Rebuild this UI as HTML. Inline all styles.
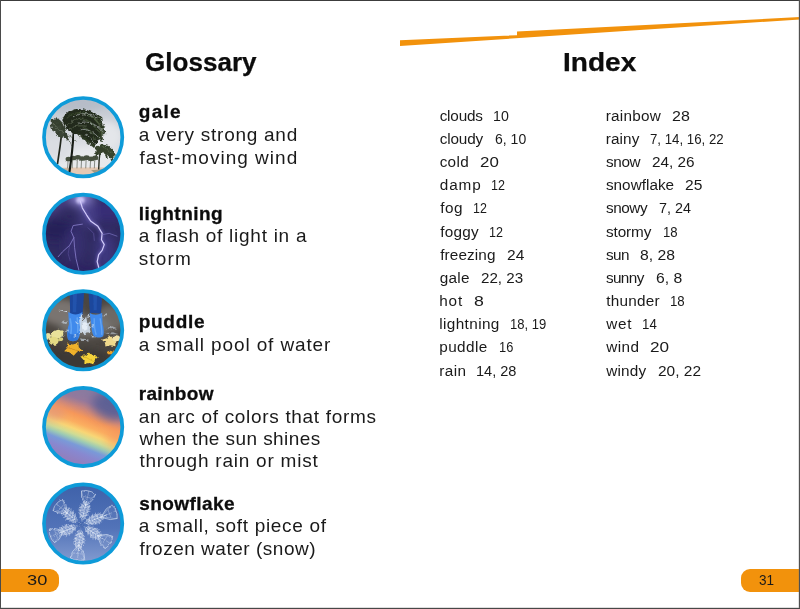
<!DOCTYPE html>
<html lang="en">
<head>
<meta charset="utf-8">
<title>Glossary and Index</title>
<style>
  html, body { margin: 0; padding: 0; }
  body { width: 800px; height: 609px; background: #ffffff; overflow: hidden; position: relative;
         font-family: "Liberation Sans", sans-serif; }
  #page { position: absolute; left: 0; top: 0; width: 800px; height: 609px; background: #fff; overflow: hidden; }
  .edge { position: absolute; }
  #e-top { left: 0; top: 0; width: 800px; height: 1px; background: #3c3c3c; }
  #e-left { left: 0; top: 0; width: 1px; height: 609px; background: #4a4a4a; }
  #e-right { left: 798px; top: 0; width: 2px; height: 609px; background: linear-gradient(90deg, rgba(120,120,120,.22) 0 50%, #505050 50% 100%); }
  #e-bot { left: 0; top: 607px; width: 800px; height: 2px; background: linear-gradient(180deg, rgba(120,120,120,.25) 0 50%, #484848 50% 100%); }
  .t { position: absolute; white-space: pre; line-height: 1; font-family: "Liberation Sans", sans-serif; }
  .n { transform-origin: 0 0; }
  .tab { position: absolute; background: #f2920c; height: 22.8px; top: 569.1px; }
  #tab-l { left: 0px; width: 59px; border-radius: 0 9px 9px 0; }
  #tab-r { left: 741px; width: 59px; border-radius: 9px 0 0 9px; }
  svg { position: absolute; left: 0; top: 0; }
  #txt { position: absolute; left: 0; top: 0; width: 800px; height: 609px; will-change: transform; }
</style>
</head>
<body>
<div id="page">

<svg id="art" width="800" height="609" viewBox="0 0 800 609">
  <defs>
    <filter id="b03" x="-10%" y="-10%" width="120%" height="120%"><feGaussianBlur stdDeviation="0.3"/></filter>
    <filter id="b05" x="-10%" y="-10%" width="120%" height="120%"><feGaussianBlur stdDeviation="0.5"/></filter>
    <filter id="b1" x="-10%" y="-10%" width="120%" height="120%"><feGaussianBlur stdDeviation="0.9"/></filter>
    <filter id="b2" x="-30%" y="-30%" width="160%" height="160%"><feGaussianBlur stdDeviation="1.6"/></filter>
    <filter id="b3" x="-30%" y="-30%" width="160%" height="160%"><feGaussianBlur stdDeviation="3"/></filter>
    <filter id="b4" x="-40%" y="-40%" width="180%" height="180%"><feGaussianBlur stdDeviation="5"/></filter>
    <filter id="rough" x="-20%" y="-20%" width="140%" height="140%"><feTurbulence type="fractalNoise" baseFrequency="0.32" numOctaves="2" seed="4" result="n"/><feDisplacementMap in="SourceGraphic" in2="n" scale="4.5" xChannelSelector="R" yChannelSelector="G"/><feGaussianBlur stdDeviation="0.45"/></filter>
    <filter id="rough2" x="-20%" y="-20%" width="140%" height="140%"><feTurbulence type="fractalNoise" baseFrequency="0.5" numOctaves="2" seed="9" result="n"/><feDisplacementMap in="SourceGraphic" in2="n" scale="1.6" xChannelSelector="R" yChannelSelector="G"/><feGaussianBlur stdDeviation="0.45"/></filter>
    <filter id="rough3" x="-20%" y="-20%" width="140%" height="140%"><feTurbulence type="fractalNoise" baseFrequency="0.28" numOctaves="2" seed="12" result="n"/><feDisplacementMap in="SourceGraphic" in2="n" scale="3.4" xChannelSelector="R" yChannelSelector="G"/><feGaussianBlur stdDeviation="0.45"/></filter>
    <filter id="rough4" x="-20%" y="-20%" width="140%" height="140%"><feTurbulence type="fractalNoise" baseFrequency="0.4" numOctaves="2" seed="21" result="n"/><feDisplacementMap in="SourceGraphic" in2="n" scale="2.6" xChannelSelector="R" yChannelSelector="G"/><feGaussianBlur stdDeviation="0.4"/></filter>
    <clipPath id="cc"><circle cx="0" cy="0" r="38.4"/></clipPath>
    <linearGradient id="sky1" x1="0" y1="0" x2="0" y2="1">
      <stop offset="0" stop-color="#bcc2cb"/><stop offset="0.5" stop-color="#d6d9df"/><stop offset="0.8" stop-color="#e6e8eb"/><stop offset="1" stop-color="#ecedee"/>
    </linearGradient>
    <linearGradient id="rain" gradientUnits="userSpaceOnUse" x1="15.5" y1="-40" x2="-15.5" y2="40">
      <stop offset="0" stop-color="#85789f"/>
      <stop offset="0.10" stop-color="#8a7a9e"/>
      <stop offset="0.21" stop-color="#98789a"/>
      <stop offset="0.31" stop-color="#d08878"/>
      <stop offset="0.39" stop-color="#f6985a"/>
      <stop offset="0.48" stop-color="#fbae60"/>
      <stop offset="0.555" stop-color="#f8d676"/>
      <stop offset="0.615" stop-color="#cfdc94"/>
      <stop offset="0.665" stop-color="#9ccab4"/>
      <stop offset="0.725" stop-color="#7a9ad8"/>
      <stop offset="0.80" stop-color="#8888d0"/>
      <stop offset="0.90" stop-color="#9080c0"/>
      <stop offset="1" stop-color="#9080c0"/>
    </linearGradient>
    <linearGradient id="snowbg" x1="0" y1="0" x2="0" y2="1">
      <stop offset="0" stop-color="#3d60a8"/><stop offset="0.55" stop-color="#5273b8"/><stop offset="1" stop-color="#88a0d3"/>
    </linearGradient>
  </defs>

  <!-- orange stripe -->
  <polygon points="400,40.3 517,35.2 517,31.4 800,17.1 800,19.4 400,46.0" fill="#f2920c"/>

<!-- circle 1 -->
<g transform="translate(83.15,137.15)"><g clip-path="url(#cc)">
<rect x="-43" y="-43" width="86" height="86" fill="url(#sky1)"/>
<g filter="url(#b3)"><ellipse cx="22" cy="-2" rx="16" ry="14" fill="#e6e8eb" opacity=".9"/><ellipse cx="-24" cy="12" rx="14" ry="10" fill="#dadde2" opacity=".9"/><ellipse cx="-6" cy="-34" rx="30" ry="9" fill="#b4bac5" opacity=".8"/><ellipse cx="8" cy="18" rx="22" ry="8" fill="#e9ebed" opacity=".9"/></g>
<g filter="url(#b05)" fill="none" stroke-linecap="round">
<path d="M-43,30.6 L43,30 L43,43 L-43,43 Z" fill="#e4c9b4" stroke="none"/>
<path d="M8,33 L40,30 L40,36 L14,38 Z" fill="#8a846b" stroke="none" opacity=".7"/>
<path d="M-30,31.5 L-12,31 L-12,34 L-30,35 Z" fill="#9a927c" stroke="none" opacity=".45"/>
</g>
<g filter="url(#rough2)" fill="none" stroke-linecap="round">
<path d="M-15,21.6 L-15.5,30.8" stroke="#444c40" stroke-width=".6"/>
<ellipse cx="-14.6" cy="21.9" rx="3" ry="2.3" fill="#46513f" stroke="none"/>
<path d="M-14.7,21.6 q2,0.2 3,2.4 M-14.7,21.6 q-1.6,0.2 -2.4,2.2" stroke="#46513f" stroke-width=".8"/>
<path d="M-10.5,20.6 L-11,30.8" stroke="#444c40" stroke-width=".6"/>
<ellipse cx="-10.1" cy="20.9" rx="3" ry="2.3" fill="#46513f" stroke="none"/>
<path d="M-10.2,20.6 q2,0.2 3,2.4 M-10.2,20.6 q-1.6,0.2 -2.4,2.2" stroke="#46513f" stroke-width=".8"/>
<path d="M-5.7,19.8 L-6.2,30.8" stroke="#444c40" stroke-width=".6"/>
<ellipse cx="-5.3" cy="20.1" rx="3" ry="2.3" fill="#46513f" stroke="none"/>
<path d="M-5.4,19.8 q2,0.2 3,2.4 M-5.4,19.8 q-1.6,0.2 -2.4,2.2" stroke="#46513f" stroke-width=".8"/>
<path d="M-1.5,21 L-2,30.8" stroke="#444c40" stroke-width=".6"/>
<ellipse cx="-1.1" cy="21.3" rx="3" ry="2.3" fill="#46513f" stroke="none"/>
<path d="M-1.2,21 q2,0.2 3,2.4 M-1.2,21 q-1.6,0.2 -2.4,2.2" stroke="#46513f" stroke-width=".8"/>
<path d="M3.1,20.2 L2.6,30.8" stroke="#444c40" stroke-width=".6"/>
<ellipse cx="3.5" cy="20.5" rx="3" ry="2.3" fill="#46513f" stroke="none"/>
<path d="M3.4,20.2 q2,0.2 3,2.4 M3.4,20.2 q-1.6,0.2 -2.4,2.2" stroke="#46513f" stroke-width=".8"/>
<path d="M7.5,21.4 L7,30.8" stroke="#444c40" stroke-width=".6"/>
<ellipse cx="7.9" cy="21.7" rx="3" ry="2.3" fill="#46513f" stroke="none"/>
<path d="M7.8,21.4 q2,0.2 3,2.4 M7.8,21.4 q-1.6,0.2 -2.4,2.2" stroke="#46513f" stroke-width=".8"/>
<path d="M11.7,20.4 L11.2,30.8" stroke="#444c40" stroke-width=".6"/>
<ellipse cx="12.1" cy="20.7" rx="3" ry="2.3" fill="#46513f" stroke="none"/>
<path d="M12,20.4 q2,0.2 3,2.4 M12,20.4 q-1.6,0.2 -2.4,2.2" stroke="#46513f" stroke-width=".8"/>
</g>
<g filter="url(#b05)"><path d="M17,13.5 Q15.9,22 15.5,32.4" stroke="#2b3025" stroke-width="1.4" fill="none"/></g>
<g filter="url(#rough)" fill="none" stroke-linecap="round">
<path d="M12.5,12 C13,8 18,6.4 22,8 C27,9.4 31,13 31.5,18 C31.6,21 30,23.6 28.4,23.4 C27.6,20 25,17.6 22,16.6 C19,16 16,16.6 13.6,18.4 C12,17 11.8,14 12.5,12 Z" fill="#38442e" stroke="none"/>
<path d="M17,12 q6,0 10,8 M17,12 q-3,1 -4,7 M17,12 q4,-4 9,-2 M17,12 q6,2 7,9" stroke="#34402b" stroke-width="1.5"/>
<path d="M19,10 q5,0 9,6" stroke="#5a6a48" stroke-width=".9" opacity=".8"/>
</g>
<g filter="url(#b05)"><path d="M-25.7,27 Q-22.6,8 -20.8,-10" stroke="#23271e" stroke-width="1.7" fill="none"/></g>
<g filter="url(#rough)" fill="none" stroke-linecap="round">
<path d="M-32.4,-16 C-31,-20 -25,-20 -21.5,-15.5 C-18.5,-10 -15.6,-3 -13.6,5 C-16,3 -18,0 -20,-1 C-22,2 -25,0 -27,-3 C-31,-7 -33,-11 -32.4,-16 Z" fill="#3a4434" stroke="none"/>
<path d="M-21,-11 q3,8 6,13 M-21,-11 q-1,7 -6,9 M-21,-11 q-8,-2 -10,-6 M-21,-11 q-5,-7 -9,-6" stroke="#353f2f" stroke-width="1.4"/>
<path d="M-30,-14 C-27,-10 -24,-7 -20,-5" stroke="#7a8470" stroke-width=".9" opacity=".75"/>
<path d="M-16,2 q4,3 5,7 M-15,-2 q5,2 8,6" stroke="#465040" stroke-width=".8" opacity=".8"/>
</g>
<g filter="url(#b05)"><path d="M-13.8,35.5 Q-10.6,14 -9.6,-4" stroke="#171a13" stroke-width="2.1" fill="none"/></g>
<g filter="url(#rough)" fill="none" stroke-linecap="round">
<path d="M-20.8,-17 C-19,-25 -10,-29 -2,-28 C7,-27.5 15,-23 18.6,-15 C20,-9 19.6,-3 17.8,2 C16,1 15,3 14,5.5 C12.5,6 11,7.5 9.6,9.4 C6,4.6 1,1 -5,-2 C-8,-3.5 -10,-4.5 -12,-5 C-16,-7 -19,-10 -20.8,-17 Z" fill="#232c1b" stroke="none"/>
<path d="M14.5,-22 l4.2,1.6 M15,-20.5 l4.9,1.4 M15.4,-18.9 l4.7,2.1 M15.8,-17.4 l3.6,2.4 M16.1,-15.9 l3.6,2.2 M16.4,-14.3 l3.7,1.4 M16.6,-12.8 l4.4,3.2 M16.7,-11.3 l3.8,1.7 M16.7,-9.7 l4.9,3.5 M16.6,-8.2 l4.8,2.2 M16.4,-6.7 l5.6,1.3 M16.1,-5.1 l5.4,1.9 M15.8,-3.6 l3.8,1.5 M15.4,-2.1 l4.2,3.2 M15,-0.5 l3.9,2.6 M14.5,1 l4.9,2.1 M-6,-4.5 l2.7,2.7 M-4.8,-3.6 l1.9,3.1 M-3.5,-2.7 l2.9,3.5 M-2.3,-1.8 l2.3,3.9 M-1.1,-1 l2.5,3.3 M0.2,-0.1 l3.1,4.1 M1.4,0.8 l2.2,3.9 M2.6,1.7 l2.6,4.5 M3.8,2.6 l3,3.2 M5.1,3.5 l3.4,2.9 M6.3,4.3 l2.5,4.3 M7.5,5.2 l2,3.7 M8.8,6.1 l1.9,4.1 M10,7 l3,3.9" stroke="#2f3b26" stroke-width="1.1"/>
<path d="M-5,-24 C3,-25 10,-21 15,-14 M-2,-18 C6,-17.6 12,-12 16,-5 M0,-10 C6,-8 10,-3 12.6,3" stroke="#56674a" stroke-width="1.3" opacity=".55"/>
<path d="M-17,-18 C-13,-23 -7,-25 -1,-24.6" stroke="#4a5a40" stroke-width="1.1" opacity=".5"/>
<path d="M10,-20 C15,-16 18,-10 18.6,-3" stroke="#62724f" stroke-width="1.6" opacity=".5"/>
<path d="M-3,-7.5 C4,-9 11,-5 16.5,1.5 M-5,-14 C3,-17 12,-14 18.5,-7 M-9,-20.5 C-2,-25 8,-24 14,-19.5 M2,-2.5 C6,-1 9,2 11.5,6" stroke="#d2d6dc" stroke-width="1" opacity=".55"/>
<path d="M-16,-12 C-12,-17 -6,-19 0,-19 M-14,-8 C-9,-11 -3,-12 3,-11" stroke="#7c8873" stroke-width="1" opacity=".5"/>
</g>
</g>
<circle r="39.15" fill="none" stroke="#0e9bd9" stroke-width="3.7"/></g>
<!-- circle 2 -->
<g transform="translate(83.15,233.75)"><g clip-path="url(#cc)">
<rect x="-43" y="-43" width="86" height="86" fill="#2f2a60"/>
<g filter="url(#b4)"><ellipse cx="-2" cy="-36" rx="12" ry="9" fill="#8a82cc"/><ellipse cx="6" cy="-20" rx="10" ry="13" fill="#524a98" opacity=".7"/><ellipse cx="-30" cy="-28" rx="22" ry="7" fill="#51468f" opacity=".75" transform="rotate(-28 -30 -28)"/><ellipse cx="-27" cy="-4" rx="18" ry="10" fill="#261f58" opacity=".9"/><ellipse cx="26" cy="-24" rx="16" ry="12" fill="#362c78" opacity=".9"/><ellipse cx="22" cy="18" rx="10" ry="20" fill="#453d8a" opacity=".7"/><ellipse cx="-8" cy="10" rx="10" ry="18" fill="#3b347c" opacity=".6"/><ellipse cx="-8" cy="38" rx="30" ry="8" fill="#2a2262" opacity=".8"/></g>
<ellipse cx="-2.8" cy="-33.5" rx="4" ry="3.6" fill="#dcd6ff" filter="url(#b2)"/>
<g fill="none" stroke-linecap="round" stroke-linejoin="round">
<path d="M-2.9,-32.9 L-0.8,-25.8 L3.5,-18.7 L7.7,-12.4 L14.8,-7.4 L19,-0.4 L18.3,6 L21.1,10.9 L19,16.6 L15.5,20.8 L14,27.9 L15.5,33.5 L17,38" stroke="#8479d6" stroke-width="3.2" opacity=".45" filter="url(#b2)"/>
<path d="M-2.9,-32.9 L-0.8,-25.8 L3.5,-18.7 L7.7,-12.4 L14.8,-7.4 L19,-0.4 L18.3,6 L21.1,10.9 L19,16.6 L15.5,20.8 L14,27.9 L15.5,33.5 L17,38" stroke="#d3ccfb" stroke-width="1.2" filter="url(#b03)"/>
<g filter="url(#b05)">
<path d="M19,1 L26,-0.4 L33.8,2.4" stroke="#8077c6" stroke-width=".8" opacity=".8"/>
<path d="M-0.8,-9.6 L-10,-8.2 L-12.1,-2.5 L-9.3,3.9 L-13.5,11.6 L-20.6,18 L-25,23" stroke="#8e84d2" stroke-width=".9" opacity=".85"/>
<path d="M-9.3,3.9 L-8.6,13.7 L-7.1,25 L-4.3,36.3" stroke="#8e84d2" stroke-width=".9" opacity=".85"/>
<path d="M4.9,-6 L10.5,-0.4 L11.2,6.7" stroke="#7268b8" stroke-width=".8" opacity=".6"/>
<path d="M-13.5,11.6 L-15,20 L-13,27" stroke="#7268b8" stroke-width=".7" opacity=".5"/>
</g></g>
</g>
<circle r="39.15" fill="none" stroke="#0e9bd9" stroke-width="3.7"/></g>
<!-- circle 3 -->
<g transform="translate(83.15,330.35)"><g clip-path="url(#cc)">
<rect x="-43" y="-43" width="86" height="86" fill="#4b4641"/>
<g filter="url(#b3)"><ellipse cx="-22" cy="-18" rx="20" ry="13" fill="#827d78" opacity=".85"/><ellipse cx="27" cy="-12" rx="15" ry="13" fill="#77726d" opacity=".8"/><ellipse cx="2" cy="-4" rx="26" ry="11" fill="#7b7977" opacity=".8"/><ellipse cx="-4" cy="30" rx="34" ry="12" fill="#3b3733" opacity=".9"/><ellipse cx="-30" cy="20" rx="10" ry="10" fill="#3d3935" opacity=".8"/></g>
<g filter="url(#b05)">
<path d="M-13.5,-43 L1.3,-43 L-0.6,-15 L-13,-14 Z" fill="#1c479c"/>
<path d="M4.9,-43 L19.7,-43 L17.8,-16.5 L6.8,-17.5 Z" fill="#1c479c"/>
<path d="M-10,-43 L-6,-43 L-7,-18 L-10.5,-18 Z" fill="#2858b4" opacity=".7"/>
<path d="M10,-43 L14,-43 L13.5,-20 L10.5,-20 Z" fill="#2858b4" opacity=".7"/>
<path d="M-14.9,-18.3 C-10,-15 -5,-15 -0.8,-18.3 L-2.5,-4 C-2.5,2 -4,8 -5.5,9.5 C-8,11.5 -13,11.5 -15.2,9 C-16.6,5 -15.8,-2 -14.2,-6 Z" fill="#3f8aec"/>
<path d="M6.3,-17.6 C10,-15 15,-15 19,-17.6 L19.4,-6 C21,-1 21,4 20,6 C17.5,8 12.5,7.5 10.4,5.5 C8.6,2 8.2,-3 8.2,-6 Z" fill="#3f8aec"/>
<path d="M-13,-12 C-11,-3 -12,4 -13.5,8 M-6,-13 C-5,-6 -5,2 -6.5,8" stroke="#6aaaf5" stroke-width="1.6" fill="none" opacity=".8"/>
<path d="M11,-12 C11,-5 11.5,0 13,4.5 M17,-12 C18,-6 19,0 18.6,4.5" stroke="#6aaaf5" stroke-width="1.4" fill="none" opacity=".8"/>
<path d="M-15.4,2 C-12,5 -8,5 -4.6,2 L-5.5,9.5 C-8,11.5 -13,11.5 -15.2,9 Z" fill="#2b6fd2" opacity=".8"/>
</g><g filter="url(#rough3)">
<g fill="#d6e4f3"><path d="M-4,-10 L-1.5,-15 L0.5,-9 L3,-14 L4.2,-7 L7.4,-9 L6.4,-2 L7.8,3 L3.6,2 L1.4,5 L-0.6,1.4 L-4.2,3.6 L-3.2,-3 Z" opacity=".85"/><ellipse cx="1.6" cy="-4" rx="2.8" ry="4.2" fill="#eef4fb" opacity=".8"/><path d="M-3,-12 l1,-5 l1.5,4 z M4,-12 l1.4,-6 l1,5 z M-6,-6 l-2.4,-3 l3,1 z M8,-4 l3,-2 l-1,3 z M-7,4 l-3,2 l3,.6 z M9,5 l3,2 l-3.4,.2 z" opacity=".7"/><path d="M-24.8,-20.6 L-15,-19.6 L-16,-18 Z" opacity=".9"/><path d="M-22,-8 l3,-2 l1,2 l3,-1 l-2,3 z" opacity=".55"/><path d="M-19,2 l4,-3 l1,2 z M-23,6 l5,-1 l-3,2 z" opacity=".6"/><path d="M23,-2 l6,-2 l5,2 l-6,1 z M22,3 l8,-1 l5,2 l-8,0 z" opacity=".5"/><path d="M20,-14 l3,-3 l1,3 z M-2,8 l4,1 l3,-1 l1,2 l-7,1 z" opacity=".6"/></g>
<ellipse cx="-26" cy="4" rx="6.4" ry="4.2" fill="#e9e19a" transform="rotate(-20 -26 4)"/>
<ellipse cx="-29.5" cy="10.5" rx="5" ry="4" fill="#e3da84"/>
<ellipse cx="-35" cy="6" rx="2.6" ry="3.4" fill="#e8e0a0"/>
<ellipse cx="-22.5" cy="9" rx="2.4" ry="2" fill="#d8cf7a"/>
<polygon points="-0.7,20.3 -6.3,21.8 -9.5,25.4 -13.2,22.1 -19,21 -15.7,17.4 -16,13.1 -10.3,14.2 -4.8,12.7 -4.4,17" fill="#f0b22c"/>
<path d="M-17,17 L-3,21" stroke="#c98a1c" stroke-width=".7"/>
<polygon points="-2.8,26.1 2.7,24.9 6.3,21.6 9.6,25.1 15,26.5 11.5,29.8 11.3,34 5.8,32.6 0.2,33.7 0.4,29.6" fill="#f4d23a"/>
<path d="M-1,25 L12,32" stroke="#d1ab24" stroke-width=".7"/>
<polygon points="35.1,8.9 32.1,12.1 32.3,15.9 27.2,14.8 22.2,16.1 22,12.3 18.7,9.3 23.7,8 26.7,4.8 30,7.8" fill="#f0d98c"/>
<ellipse cx="33" cy="8" rx="4" ry="3" fill="#f3e2a8"/>
<ellipse cx="26.8" cy="22.2" rx="2.9" ry="1.8" fill="#eda228"/>
</g>
</g>
<circle r="39.15" fill="none" stroke="#0e9bd9" stroke-width="3.7"/></g>
<!-- circle 4 -->
<g transform="translate(83.15,426.95)"><g clip-path="url(#cc)">
<rect x="-43" y="-43" width="86" height="86" fill="url(#rain)"/>
<g filter="url(#b4)"><ellipse cx="27" cy="-22" rx="19" ry="14" fill="#535a92" opacity=".8" transform="rotate(28 27 -22)"/><ellipse cx="-4" cy="-36" rx="24" ry="8" fill="#8a7ba0" opacity=".6"/><ellipse cx="-30" cy="-14" rx="12" ry="8" fill="#d8908a" opacity=".5"/><ellipse cx="32" cy="12" rx="8" ry="10" fill="#f59660" opacity=".5"/></g>
</g>
<circle r="39.15" fill="none" stroke="#0e9bd9" stroke-width="3.7"/></g>
<!-- circle 5 -->
<g transform="translate(83.15,523.6)"><g clip-path="url(#cc)">
<rect x="-43" y="-43" width="86" height="86" fill="url(#snowbg)"/>
<g transform="translate(-2.2,1.2)" fill="none" stroke-linecap="round" stroke-linejoin="round" filter="url(#rough4)">
<g transform="rotate(-76.8)"><path d="M3,0 L9,-3 L15,-5 L20.4,-3 L23.8,0 L20.4,3 L15,5 L9,3 Z" fill="#e6eefa" stroke="none" opacity=".16"/><path d="M5,0 L10,-2 L15,-3 L20.4,-1.6 L22.4,0 L20.4,1.6 L15,3 L10,2 Z" fill="#f0f5fc" stroke="none" opacity=".14"/><path d="M0,0 L25.2,0" stroke="#dfe8f6" stroke-width=".8" opacity=".8"/><path d="M5.5,0 l1.9,-3.2 M5.5,0 l1.9,3.2 M7.3,-2.6 l1.6,1.2 M7.3,2.6 l1.6,-1.2 M8.5,0 l2.9,-4.8 M8.5,0 l2.9,4.8 M10.3,-3.8 l1.6,1.2 M10.3,3.8 l1.6,-1.2 M11.5,0 l3.4,-5.7 M11.5,0 l3.4,5.7 M13.3,-4.5 l1.6,1.2 M13.3,4.5 l1.6,-1.2 M14.5,0 l3.4,-5.7 M14.5,0 l3.4,5.7 M16.3,-4.5 l1.6,1.2 M16.3,4.5 l1.6,-1.2 M17.5,0 l2.9,-4.8 M17.5,0 l2.9,4.8 M19.3,-3.8 l1.6,1.2 M19.3,3.8 l1.6,-1.2 M20.5,0 l1.9,-3.2 M20.5,0 l1.9,3.2 M22.3,-2.6 l1.6,1.2 M22.3,2.6 l1.6,-1.2" stroke="#f2f6fc" stroke-width=".95" opacity=".46"/><circle cx="9" cy="-2.2" r="1.4" fill="#f4f7fd" opacity=".3"/><circle cx="10" cy="2.2" r="1.3" fill="#f4f7fd" opacity=".3"/><circle cx="13.5" cy="-3.4" r="1.4" fill="#f4f7fd" opacity=".3"/><circle cx="14.5" cy="3.4" r="1.3" fill="#f4f7fd" opacity=".3"/><circle cx="18" cy="-2.8" r="1.4" fill="#f4f7fd" opacity=".3"/><circle cx="19" cy="2.8" r="1.3" fill="#f4f7fd" opacity=".3"/><path d="M19.7,0 L27.2,-5.8 L33,-7.2 L34.6,-3 L34.6,3 L33,7.2 L27.2,5.8 Z" stroke="#dde7f6" stroke-width=".8" opacity=".7" fill="#dfe8f6" fill-opacity=".1"/><path d="M19.7,0 L34.6,0 M19.7,0 L33,-7.2 M19.7,0 L33,7.2 M28.2,-3.6 L28.2,3.6" stroke="#e2eaf7" stroke-width=".6" opacity=".5"/></g>
<g transform="rotate(-21.2)"><path d="M3,0 L9,-3 L15,-5 L22.2,-3 L25.9,0 L22.2,3 L15,5 L9,3 Z" fill="#e6eefa" stroke="none" opacity=".16"/><path d="M5,0 L10,-2 L15,-3 L22.2,-1.6 L24.4,0 L22.2,1.6 L15,3 L10,2 Z" fill="#f0f5fc" stroke="none" opacity=".14"/><path d="M0,0 L27.4,0" stroke="#dfe8f6" stroke-width=".8" opacity=".8"/><path d="M5.5,0 l1.9,-3.2 M5.5,0 l1.9,3.2 M7.3,-2.6 l1.6,1.2 M7.3,2.6 l1.6,-1.2 M8.5,0 l2.9,-4.8 M8.5,0 l2.9,4.8 M10.3,-3.8 l1.6,1.2 M10.3,3.8 l1.6,-1.2 M11.5,0 l3.4,-5.7 M11.5,0 l3.4,5.7 M13.3,-4.5 l1.6,1.2 M13.3,4.5 l1.6,-1.2 M14.5,0 l3.4,-5.7 M14.5,0 l3.4,5.7 M16.3,-4.5 l1.6,1.2 M16.3,4.5 l1.6,-1.2 M17.5,0 l2.9,-4.8 M17.5,0 l2.9,4.8 M19.3,-3.8 l1.6,1.2 M19.3,3.8 l1.6,-1.2 M20.5,0 l1.9,-3.2 M20.5,0 l1.9,3.2 M22.3,-2.6 l1.6,1.2 M22.3,2.6 l1.6,-1.2" stroke="#f2f6fc" stroke-width=".95" opacity=".46"/><circle cx="9" cy="-2.2" r="1.4" fill="#f4f7fd" opacity=".3"/><circle cx="10" cy="2.2" r="1.3" fill="#f4f7fd" opacity=".3"/><circle cx="13.5" cy="-3.4" r="1.4" fill="#f4f7fd" opacity=".3"/><circle cx="14.5" cy="3.4" r="1.3" fill="#f4f7fd" opacity=".3"/><circle cx="18" cy="-2.8" r="1.4" fill="#f4f7fd" opacity=".3"/><circle cx="19" cy="2.8" r="1.3" fill="#f4f7fd" opacity=".3"/><path d="M21.5,0 L29.6,-5.8 L36,-7.2 L37.6,-3 L37.6,3 L36,7.2 L29.6,5.8 Z" stroke="#dde7f6" stroke-width=".8" opacity=".7" fill="#dfe8f6" fill-opacity=".1"/><path d="M21.5,0 L37.6,0 M21.5,0 L36,-7.2 M21.5,0 L36,7.2 M30.6,-3.6 L30.6,3.6" stroke="#e2eaf7" stroke-width=".6" opacity=".5"/></g>
<g transform="rotate(32.4)"><path d="M3,0 L9,-3 L15,-5 L20.4,-3 L23.8,0 L20.4,3 L15,5 L9,3 Z" fill="#e6eefa" stroke="none" opacity=".16"/><path d="M5,0 L10,-2 L15,-3 L20.4,-1.6 L22.4,0 L20.4,1.6 L15,3 L10,2 Z" fill="#f0f5fc" stroke="none" opacity=".14"/><path d="M0,0 L25.2,0" stroke="#dfe8f6" stroke-width=".8" opacity=".8"/><path d="M5.5,0 l1.9,-3.2 M5.5,0 l1.9,3.2 M7.3,-2.6 l1.6,1.2 M7.3,2.6 l1.6,-1.2 M8.5,0 l2.9,-4.8 M8.5,0 l2.9,4.8 M10.3,-3.8 l1.6,1.2 M10.3,3.8 l1.6,-1.2 M11.5,0 l3.4,-5.7 M11.5,0 l3.4,5.7 M13.3,-4.5 l1.6,1.2 M13.3,4.5 l1.6,-1.2 M14.5,0 l3.4,-5.7 M14.5,0 l3.4,5.7 M16.3,-4.5 l1.6,1.2 M16.3,4.5 l1.6,-1.2 M17.5,0 l2.9,-4.8 M17.5,0 l2.9,4.8 M19.3,-3.8 l1.6,1.2 M19.3,3.8 l1.6,-1.2 M20.5,0 l1.9,-3.2 M20.5,0 l1.9,3.2 M22.3,-2.6 l1.6,1.2 M22.3,2.6 l1.6,-1.2" stroke="#f2f6fc" stroke-width=".95" opacity=".46"/><circle cx="9" cy="-2.2" r="1.4" fill="#f4f7fd" opacity=".3"/><circle cx="10" cy="2.2" r="1.3" fill="#f4f7fd" opacity=".3"/><circle cx="13.5" cy="-3.4" r="1.4" fill="#f4f7fd" opacity=".3"/><circle cx="14.5" cy="3.4" r="1.3" fill="#f4f7fd" opacity=".3"/><circle cx="18" cy="-2.8" r="1.4" fill="#f4f7fd" opacity=".3"/><circle cx="19" cy="2.8" r="1.3" fill="#f4f7fd" opacity=".3"/><path d="M19.7,0 L27.2,-5.8 L33,-7.2 L34.6,-3 L34.6,3 L33,7.2 L27.2,5.8 Z" stroke="#dde7f6" stroke-width=".8" opacity=".7" fill="#dfe8f6" fill-opacity=".1"/><path d="M19.7,0 L34.6,0 M19.7,0 L33,-7.2 M19.7,0 L33,7.2 M28.2,-3.6 L28.2,3.6" stroke="#e2eaf7" stroke-width=".6" opacity=".5"/></g>
<g transform="rotate(95.8)"><path d="M3,0 L9,-3 L15,-5 L21,-3 L24.5,0 L21,3 L15,5 L9,3 Z" fill="#e6eefa" stroke="none" opacity=".16"/><path d="M5,0 L10,-2 L15,-3 L21,-1.6 L23.1,0 L21,1.6 L15,3 L10,2 Z" fill="#f0f5fc" stroke="none" opacity=".14"/><path d="M0,0 L25.9,0" stroke="#dfe8f6" stroke-width=".8" opacity=".8"/><path d="M5.5,0 l1.9,-3.2 M5.5,0 l1.9,3.2 M7.3,-2.6 l1.6,1.2 M7.3,2.6 l1.6,-1.2 M8.5,0 l2.9,-4.8 M8.5,0 l2.9,4.8 M10.3,-3.8 l1.6,1.2 M10.3,3.8 l1.6,-1.2 M11.5,0 l3.4,-5.7 M11.5,0 l3.4,5.7 M13.3,-4.5 l1.6,1.2 M13.3,4.5 l1.6,-1.2 M14.5,0 l3.4,-5.7 M14.5,0 l3.4,5.7 M16.3,-4.5 l1.6,1.2 M16.3,4.5 l1.6,-1.2 M17.5,0 l2.9,-4.8 M17.5,0 l2.9,4.8 M19.3,-3.8 l1.6,1.2 M19.3,3.8 l1.6,-1.2 M20.5,0 l1.9,-3.2 M20.5,0 l1.9,3.2 M22.3,-2.6 l1.6,1.2 M22.3,2.6 l1.6,-1.2" stroke="#f2f6fc" stroke-width=".95" opacity=".46"/><circle cx="9" cy="-2.2" r="1.4" fill="#f4f7fd" opacity=".3"/><circle cx="10" cy="2.2" r="1.3" fill="#f4f7fd" opacity=".3"/><circle cx="13.5" cy="-3.4" r="1.4" fill="#f4f7fd" opacity=".3"/><circle cx="14.5" cy="3.4" r="1.3" fill="#f4f7fd" opacity=".3"/><circle cx="18" cy="-2.8" r="1.4" fill="#f4f7fd" opacity=".3"/><circle cx="19" cy="2.8" r="1.3" fill="#f4f7fd" opacity=".3"/><path d="M20.3,0 L28,-5.8 L34,-7.2 L35.6,-3 L35.6,3 L34,7.2 L28,5.8 Z" stroke="#dde7f6" stroke-width=".8" opacity=".7" fill="#dfe8f6" fill-opacity=".1"/><path d="M20.3,0 L35.6,0 M20.3,0 L34,-7.2 M20.3,0 L34,7.2 M29,-3.6 L29,3.6" stroke="#e2eaf7" stroke-width=".6" opacity=".5"/></g>
<g transform="rotate(159.1)"><path d="M3,0 L9,-3 L15,-5 L19.2,-3 L22.4,0 L19.2,3 L15,5 L9,3 Z" fill="#e6eefa" stroke="none" opacity=".16"/><path d="M5,0 L10,-2 L15,-3 L19.2,-1.6 L21.1,0 L19.2,1.6 L15,3 L10,2 Z" fill="#f0f5fc" stroke="none" opacity=".14"/><path d="M0,0 L23.7,0" stroke="#dfe8f6" stroke-width=".8" opacity=".8"/><path d="M5.5,0 l1.9,-3.2 M5.5,0 l1.9,3.2 M7.3,-2.6 l1.6,1.2 M7.3,2.6 l1.6,-1.2 M8.5,0 l2.9,-4.8 M8.5,0 l2.9,4.8 M10.3,-3.8 l1.6,1.2 M10.3,3.8 l1.6,-1.2 M11.5,0 l3.4,-5.7 M11.5,0 l3.4,5.7 M13.3,-4.5 l1.6,1.2 M13.3,4.5 l1.6,-1.2 M14.5,0 l3.4,-5.7 M14.5,0 l3.4,5.7 M16.3,-4.5 l1.6,1.2 M16.3,4.5 l1.6,-1.2 M17.5,0 l2.9,-4.8 M17.5,0 l2.9,4.8 M19.3,-3.8 l1.6,1.2 M19.3,3.8 l1.6,-1.2 M20.5,0 l1.9,-3.2 M20.5,0 l1.9,3.2 M22.3,-2.6 l1.6,1.2 M22.3,2.6 l1.6,-1.2" stroke="#f2f6fc" stroke-width=".95" opacity=".46"/><circle cx="9" cy="-2.2" r="1.4" fill="#f4f7fd" opacity=".3"/><circle cx="10" cy="2.2" r="1.3" fill="#f4f7fd" opacity=".3"/><circle cx="13.5" cy="-3.4" r="1.4" fill="#f4f7fd" opacity=".3"/><circle cx="14.5" cy="3.4" r="1.3" fill="#f4f7fd" opacity=".3"/><circle cx="18" cy="-2.8" r="1.4" fill="#f4f7fd" opacity=".3"/><circle cx="19" cy="2.8" r="1.3" fill="#f4f7fd" opacity=".3"/><path d="M18.6,0 L25.6,-5.8 L31,-7.2 L32.6,-3 L32.6,3 L31,7.2 L25.6,5.8 Z" stroke="#dde7f6" stroke-width=".8" opacity=".7" fill="#dfe8f6" fill-opacity=".1"/><path d="M18.6,0 L32.6,0 M18.6,0 L31,-7.2 M18.6,0 L31,7.2 M26.6,-3.6 L26.6,3.6" stroke="#e2eaf7" stroke-width=".6" opacity=".5"/></g>
<g transform="rotate(220.5)"><path d="M3,0 L9,-3 L15,-5 L18.9,-3 L22,0 L18.9,3 L15,5 L9,3 Z" fill="#e6eefa" stroke="none" opacity=".16"/><path d="M5,0 L10,-2 L15,-3 L18.9,-1.6 L20.8,0 L18.9,1.6 L15,3 L10,2 Z" fill="#f0f5fc" stroke="none" opacity=".14"/><path d="M0,0 L23.3,0" stroke="#dfe8f6" stroke-width=".8" opacity=".8"/><path d="M5.5,0 l1.9,-3.2 M5.5,0 l1.9,3.2 M7.3,-2.6 l1.6,1.2 M7.3,2.6 l1.6,-1.2 M8.5,0 l2.9,-4.8 M8.5,0 l2.9,4.8 M10.3,-3.8 l1.6,1.2 M10.3,3.8 l1.6,-1.2 M11.5,0 l3.4,-5.7 M11.5,0 l3.4,5.7 M13.3,-4.5 l1.6,1.2 M13.3,4.5 l1.6,-1.2 M14.5,0 l3.4,-5.7 M14.5,0 l3.4,5.7 M16.3,-4.5 l1.6,1.2 M16.3,4.5 l1.6,-1.2 M17.5,0 l2.9,-4.8 M17.5,0 l2.9,4.8 M19.3,-3.8 l1.6,1.2 M19.3,3.8 l1.6,-1.2 M20.5,0 l1.9,-3.2 M20.5,0 l1.9,3.2 M22.3,-2.6 l1.6,1.2 M22.3,2.6 l1.6,-1.2" stroke="#f2f6fc" stroke-width=".95" opacity=".46"/><circle cx="9" cy="-2.2" r="1.4" fill="#f4f7fd" opacity=".3"/><circle cx="10" cy="2.2" r="1.3" fill="#f4f7fd" opacity=".3"/><circle cx="13.5" cy="-3.4" r="1.4" fill="#f4f7fd" opacity=".3"/><circle cx="14.5" cy="3.4" r="1.3" fill="#f4f7fd" opacity=".3"/><circle cx="18" cy="-2.8" r="1.4" fill="#f4f7fd" opacity=".3"/><circle cx="19" cy="2.8" r="1.3" fill="#f4f7fd" opacity=".3"/><path d="M18.3,0 L25.2,-5.8 L30.5,-7.2 L32.1,-3 L32.1,3 L30.5,7.2 L25.2,5.8 Z" stroke="#dde7f6" stroke-width=".8" opacity=".7" fill="#dfe8f6" fill-opacity=".1"/><path d="M18.3,0 L32.1,0 M18.3,0 L30.5,-7.2 M18.3,0 L30.5,7.2 M26.2,-3.6 L26.2,3.6" stroke="#e2eaf7" stroke-width=".6" opacity=".5"/></g>
</g>
<g transform="translate(-2.2,1.2)"><circle r="3" fill="#3a5ca4" opacity=".5" filter="url(#b05)"/>
<path d="M0,0 L7,0" transform="rotate(-76.8)" stroke="#3f62aa" stroke-width="1" opacity=".7"/>
<path d="M0,0 L7,0" transform="rotate(-21.2)" stroke="#3f62aa" stroke-width="1" opacity=".7"/>
<path d="M0,0 L7,0" transform="rotate(32.4)" stroke="#3f62aa" stroke-width="1" opacity=".7"/>
<path d="M0,0 L7,0" transform="rotate(95.8)" stroke="#3f62aa" stroke-width="1" opacity=".7"/>
<path d="M0,0 L7,0" transform="rotate(159.1)" stroke="#3f62aa" stroke-width="1" opacity=".7"/>
<path d="M0,0 L7,0" transform="rotate(220.5)" stroke="#3f62aa" stroke-width="1" opacity=".7"/>
</g>
</g>
<circle r="39.15" fill="none" stroke="#0e9bd9" stroke-width="3.7"/></g>
</svg>

<div class="tab" id="tab-l"></div>
<div class="tab" id="tab-r"></div>

<div id="txt">
<span class="t n" style="left:145.40px;top:49px;font-size:26px;font-weight:700;transform:scaleX(1.0020);color:#0c0c0c;-webkit-text-stroke:0.25px #0c0c0c">Glossary</span>
<span class="t n" style="left:563.47px;top:49px;font-size:26px;font-weight:700;transform:scaleX(1.0791);color:#0c0c0c;-webkit-text-stroke:0.25px #0c0c0c">Index</span>
<span class="t" style="left:138.79px;top:102px;font-size:19.0px;font-weight:700;letter-spacing:1.259px;color:#0c0c0c;-webkit-text-stroke:0.3px #0c0c0c">gale</span>
<span class="t" style="left:138.67px;top:125px;font-size:19.0px;font-weight:400;letter-spacing:0.735px;color:#1a1a1a">a very strong and</span>
<span class="t" style="left:139.45px;top:148px;font-size:19.0px;font-weight:400;letter-spacing:1.015px;color:#1a1a1a">fast-moving wind</span>
<span class="t" style="left:138.64px;top:204px;font-size:19.0px;font-weight:700;letter-spacing:0.484px;color:#0c0c0c;-webkit-text-stroke:0.3px #0c0c0c">lightning</span>
<span class="t" style="left:138.67px;top:226px;font-size:19.0px;font-weight:400;letter-spacing:0.735px;color:#1a1a1a">a flash of light in a</span>
<span class="t" style="left:138.72px;top:249px;font-size:19.0px;font-weight:400;letter-spacing:1.152px;color:#1a1a1a">storm</span>
<span class="t" style="left:138.66px;top:312px;font-size:19.0px;font-weight:700;letter-spacing:0.730px;color:#0c0c0c;-webkit-text-stroke:0.3px #0c0c0c">puddle</span>
<span class="t" style="left:138.67px;top:335px;font-size:19.0px;font-weight:400;letter-spacing:0.871px;color:#1a1a1a">a small pool of water</span>
<span class="t" style="left:138.67px;top:384px;font-size:19.0px;font-weight:700;letter-spacing:0.338px;color:#0c0c0c;-webkit-text-stroke:0.3px #0c0c0c">rainbow</span>
<span class="t" style="left:138.67px;top:407px;font-size:19.0px;font-weight:400;letter-spacing:0.681px;color:#1a1a1a">an arc of colors that forms</span>
<span class="t" style="left:139.41px;top:429px;font-size:19.0px;font-weight:400;letter-spacing:0.417px;color:#1a1a1a">when the sun shines</span>
<span class="t" style="left:139.41px;top:451px;font-size:19.0px;font-weight:400;letter-spacing:0.772px;color:#1a1a1a">through rain or mist</span>
<span class="t" style="left:139.18px;top:494px;font-size:19.0px;font-weight:700;letter-spacing:0.443px;color:#0c0c0c;-webkit-text-stroke:0.3px #0c0c0c">snowflake</span>
<span class="t" style="left:138.67px;top:516px;font-size:19.0px;font-weight:400;letter-spacing:0.670px;color:#1a1a1a">a small, soft piece of</span>
<span class="t" style="left:139.45px;top:539px;font-size:19.0px;font-weight:400;letter-spacing:0.514px;color:#1a1a1a">frozen water (snow)</span>
<span class="t n" style="left:26.73px;top:573px;font-size:14.8px;font-weight:400;transform:scaleX(1.2335);color:#1a1a1a">30</span>
<span class="t n" style="left:758.66px;top:573px;font-size:14.8px;font-weight:400;transform:scaleX(0.9156);color:#1a1a1a">31</span>
<span class="t" style="left:439.63px;top:108px;font-size:15.3px;font-weight:400;letter-spacing:-0.171px;color:#1a1a1a">clouds</span>
<span class="t n" style="left:493.05px;top:109px;font-size:14.5px;font-weight:400;transform:scaleX(0.9773);color:#1a1a1a">10</span>
<span class="t" style="left:439.63px;top:131px;font-size:15.3px;font-weight:400;letter-spacing:-0.134px;color:#1a1a1a">cloudy</span>
<span class="t n" style="left:494.88px;top:132px;font-size:14.5px;font-weight:400;transform:scaleX(0.9671);color:#1a1a1a">6, 10</span>
<span class="t" style="left:439.63px;top:154px;font-size:15.3px;font-weight:400;letter-spacing:0.336px;color:#1a1a1a">cold</span>
<span class="t n" style="left:479.59px;top:155px;font-size:14.5px;font-weight:400;transform:scaleX(1.1639);color:#1a1a1a">20</span>
<span class="t" style="left:439.69px;top:177px;font-size:15.3px;font-weight:400;letter-spacing:0.935px;color:#1a1a1a">damp</span>
<span class="t n" style="left:491.39px;top:178px;font-size:14.5px;font-weight:400;transform:scaleX(0.8658);color:#1a1a1a">12</span>
<span class="t" style="left:440.21px;top:200px;font-size:15.3px;font-weight:400;letter-spacing:0.481px;color:#1a1a1a">fog</span>
<span class="t n" style="left:473.38px;top:201px;font-size:14.5px;font-weight:400;transform:scaleX(0.8588);color:#1a1a1a">12</span>
<span class="t" style="left:440.21px;top:224px;font-size:15.3px;font-weight:400;letter-spacing:0.268px;color:#1a1a1a">foggy</span>
<span class="t n" style="left:489.39px;top:225px;font-size:14.5px;font-weight:400;transform:scaleX(0.8658);color:#1a1a1a">12</span>
<span class="t" style="left:440.21px;top:247px;font-size:15.3px;font-weight:400;letter-spacing:0.115px;color:#1a1a1a">freezing</span>
<span class="t n" style="left:506.79px;top:248px;font-size:14.5px;font-weight:400;transform:scaleX(1.0711);color:#1a1a1a">24</span>
<span class="t" style="left:439.68px;top:270px;font-size:15.3px;font-weight:400;letter-spacing:0.325px;color:#1a1a1a">gale</span>
<span class="t n" style="left:480.62px;top:271px;font-size:14.5px;font-weight:400;transform:scaleX(1.0455);color:#1a1a1a">22, 23</span>
<span class="t" style="left:439.17px;top:293px;font-size:15.3px;font-weight:400;letter-spacing:0.905px;color:#1a1a1a">hot</span>
<span class="t n" style="left:473.88px;top:294px;font-size:14.5px;font-weight:400;transform:scaleX(1.2195);color:#1a1a1a">8</span>
<span class="t" style="left:439.27px;top:316px;font-size:15.3px;font-weight:400;letter-spacing:0.382px;color:#1a1a1a">lightning</span>
<span class="t n" style="left:509.92px;top:317px;font-size:14.5px;font-weight:400;transform:scaleX(0.8993);color:#1a1a1a">18, 19</span>
<span class="t" style="left:439.32px;top:339px;font-size:15.3px;font-weight:400;letter-spacing:0.385px;color:#1a1a1a">puddle</span>
<span class="t n" style="left:498.95px;top:340px;font-size:14.5px;font-weight:400;transform:scaleX(0.8853);color:#1a1a1a">16</span>
<span class="t" style="left:439.25px;top:363px;font-size:15.3px;font-weight:400;letter-spacing:0.395px;color:#1a1a1a">rain</span>
<span class="t n" style="left:476.12px;top:364px;font-size:14.5px;font-weight:400;transform:scaleX(1.0037);color:#1a1a1a">14, 28</span>
<span class="t" style="left:605.66px;top:108px;font-size:15.3px;font-weight:400;letter-spacing:0.277px;color:#1a1a1a">rainbow</span>
<span class="t n" style="left:671.72px;top:109px;font-size:14.5px;font-weight:400;transform:scaleX(1.1033);color:#1a1a1a">28</span>
<span class="t" style="left:605.66px;top:131px;font-size:15.3px;font-weight:400;letter-spacing:0.156px;color:#1a1a1a">rainy</span>
<span class="t n" style="left:650.46px;top:132px;font-size:14.5px;font-weight:400;transform:scaleX(0.9143);color:#1a1a1a">7, 14, 16, 22</span>
<span class="t" style="left:605.92px;top:154px;font-size:15.3px;font-weight:400;letter-spacing:-0.338px;color:#1a1a1a">snow</span>
<span class="t n" style="left:651.99px;top:155px;font-size:14.5px;font-weight:400;transform:scaleX(1.0579);color:#1a1a1a">24, 26</span>
<span class="t" style="left:605.92px;top:177px;font-size:15.3px;font-weight:400;letter-spacing:0.019px;color:#1a1a1a">snowflake</span>
<span class="t n" style="left:685.17px;top:178px;font-size:14.5px;font-weight:400;transform:scaleX(1.0760);color:#1a1a1a">25</span>
<span class="t" style="left:605.92px;top:200px;font-size:15.3px;font-weight:400;letter-spacing:-0.427px;color:#1a1a1a">snowy</span>
<span class="t n" style="left:658.90px;top:201px;font-size:14.5px;font-weight:400;transform:scaleX(0.9878);color:#1a1a1a">7, 24</span>
<span class="t" style="left:605.92px;top:224px;font-size:15.3px;font-weight:400;letter-spacing:-0.088px;color:#1a1a1a">stormy</span>
<span class="t n" style="left:663.14px;top:225px;font-size:14.5px;font-weight:400;transform:scaleX(0.9059);color:#1a1a1a">18</span>
<span class="t" style="left:605.92px;top:247px;font-size:15.3px;font-weight:400;letter-spacing:-0.484px;color:#1a1a1a">sun</span>
<span class="t n" style="left:639.90px;top:248px;font-size:14.5px;font-weight:400;transform:scaleX(1.0837);color:#1a1a1a">8, 28</span>
<span class="t" style="left:605.92px;top:270px;font-size:15.3px;font-weight:400;letter-spacing:-0.610px;color:#1a1a1a">sunny</span>
<span class="t n" style="left:655.61px;top:271px;font-size:14.5px;font-weight:400;transform:scaleX(1.0851);color:#1a1a1a">6, 8</span>
<span class="t" style="left:606.29px;top:293px;font-size:15.3px;font-weight:400;letter-spacing:0.252px;color:#1a1a1a">thunder</span>
<span class="t n" style="left:670.33px;top:294px;font-size:14.5px;font-weight:400;transform:scaleX(0.9125);color:#1a1a1a">18</span>
<span class="t" style="left:606.23px;top:316px;font-size:15.3px;font-weight:400;letter-spacing:0.758px;color:#1a1a1a">wet</span>
<span class="t n" style="left:642.10px;top:317px;font-size:14.5px;font-weight:400;transform:scaleX(0.9148);color:#1a1a1a">14</span>
<span class="t" style="left:606.23px;top:339px;font-size:15.3px;font-weight:400;letter-spacing:0.426px;color:#1a1a1a">wind</span>
<span class="t n" style="left:650.13px;top:340px;font-size:14.5px;font-weight:400;transform:scaleX(1.1830);color:#1a1a1a">20</span>
<span class="t" style="left:606.23px;top:363px;font-size:15.3px;font-weight:400;letter-spacing:0.209px;color:#1a1a1a">windy</span>
<span class="t n" style="left:657.98px;top:364px;font-size:14.5px;font-weight:400;transform:scaleX(1.0660);color:#1a1a1a">20, 22</span>
</div>

<div class="edge" id="e-top"></div>
<div class="edge" id="e-left"></div>
<div class="edge" id="e-right"></div>
<div class="edge" id="e-bot"></div>
</div>
</body>
</html>
